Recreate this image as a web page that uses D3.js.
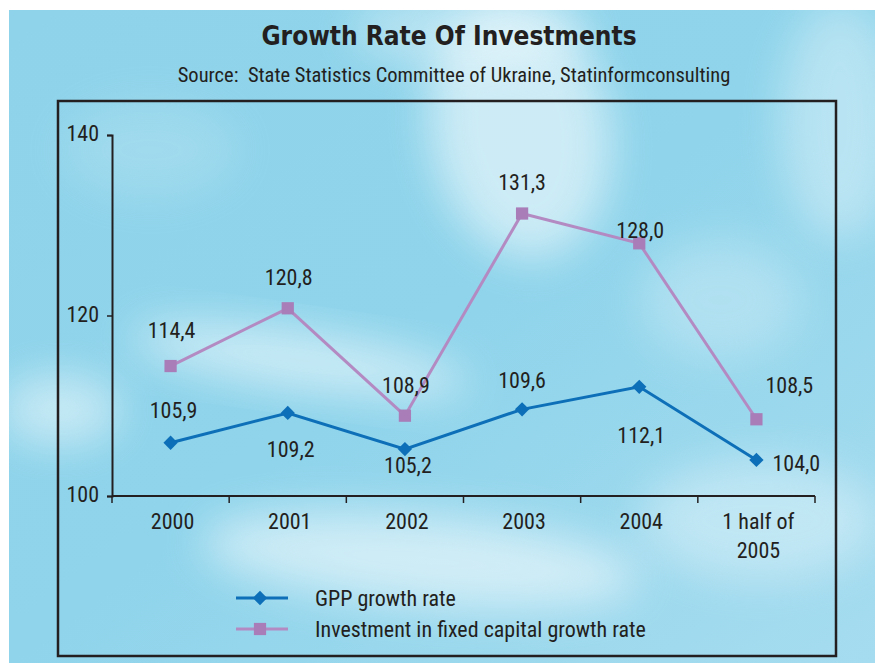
<!DOCTYPE html>
<html>
<head>
<meta charset="utf-8">
<script src="https://cdn.jsdelivr.net/npm/d3@7"></script>
<style>
  html, body { margin: 0; padding: 0; background: #ffffff; }
  svg { display: block; }
  .narrow { font-family: "Liberation Sans Narrow", "Roboto Condensed", "Liberation Sans", Arial, sans-serif; }
</style>
</head>
<body>
<svg id="chart" width="875" height="663"></svg>
<script>
// Data
const categories = ["2000", "2001", "2002", "2003", "2004", "1 half of\n2005"];
const gppValues = [105.9, 109.2, 105.2, 109.6, 112.1, 104.0];
const investValues = [114.4, 120.8, 108.9, 131.3, 128.0, 108.5];
const yTicks = [100, 120, 140];
const seriesNames = ["GPP growth rate", "Investment in fixed capital growth rate"];

// label placement per point: [dx, dy] of the label centre relative to the marker
const gppLabelOffsets = [[3, -33], [3, 36], [3, 16], [0, -29], [2, 48], [16, 3]];
const investLabelOffsets = [[1, -36], [1, -31], [1, -31], [0, -31], [1, -13], [9, -34]];

const W = 875, H = 663;
const svg = d3.select("#chart");
const defs = svg.append("defs");

// ---- sky background ----
const bgGrad = defs.append("linearGradient").attr("id", "sky")
  .attr("x1", 0).attr("y1", 0).attr("x2", 1).attr("y2", 1);
bgGrad.append("stop").attr("offset", 0).attr("stop-color", "#8ed3ea");
bgGrad.append("stop").attr("offset", 0.5).attr("stop-color", "#8fd4eb");
bgGrad.append("stop").attr("offset", 1).attr("stop-color", "#a6dcef");

defs.append("filter").attr("id", "soft").attr("x", "-50%").attr("y", "-50%")
  .attr("width", "200%").attr("height", "200%")
  .append("feGaussianBlur").attr("stdDeviation", 22);
defs.append("clipPath").attr("id", "skyClip")
  .append("rect").attr("x", 9).attr("y", 10).attr("width", W - 9).attr("height", H - 10);

const sky = svg.append("g").attr("clip-path", "url(#skyClip)");
sky.append("rect").attr("x", 9).attr("y", 10).attr("width", W - 9).attr("height", H - 10)
  .attr("fill", "url(#sky)");

// soft cloud patches
const clouds = [
  [520, 130, 90, 130, 0.55, -10],
  [470, 30, 120, 40, 0.35, 0],
  [300, 360, 170, 28, 0.55, 8],
  [60, 410, 60, 35, 0.5, 0],
  [420, 560, 220, 45, 0.55, 5],
  [760, 520, 120, 60, 0.35, 0],
  [840, 120, 60, 120, 0.35, 0],
  [720, 300, 80, 60, 0.25, 0],
  [150, 150, 90, 50, 0.15, 0]
];
sky.selectAll("ellipse.cloud").data(clouds).join("ellipse")
  .attr("class", "cloud")
  .attr("cx", d => d[0]).attr("cy", d => d[1])
  .attr("rx", d => d[2]).attr("ry", d => d[3])
  .attr("transform", d => `rotate(${d[5]},${d[0]},${d[1]})`)
  .attr("fill", "#ffffff").attr("opacity", d => d[4])
  .attr("filter", "url(#soft)");

// ---- titles ----
svg.append("text").attr("x", 449).attr("y", 45)
  .attr("text-anchor", "middle")
  .attr("font-family", "'DejaVu Sans Condensed', 'DejaVu Sans', sans-serif")
  .attr("font-weight", "bold").attr("font-size", 26).attr("fill", "#231f20")
  .text("Growth Rate Of Investments");
svg.append("text").attr("class", "narrow").attr("x", 454).attr("y", 82)
  .attr("text-anchor", "middle").attr("font-size", 20.5).attr("fill", "#231f20")
  .style("white-space", "pre")
  .text("Source:  State Statistics Committee of Ukraine, Statinformconsulting");

// ---- frame ----
svg.append("rect").attr("x", 58).attr("y", 101).attr("width", 778).attr("height", 555)
  .attr("fill", "none").attr("stroke", "#231f20").attr("stroke-width", 2.5);

// ---- scales ----
const x = d3.scaleBand().domain(categories).range([112, 815]);
const y = d3.scaleLinear().domain([100, 140]).range([496, 135]);
const cx = c => x(c) + x.bandwidth() / 2;

const axisColor = "#231f20";
const fs = 22;

// y axis
const yAxis = svg.append("g").attr("transform", "translate(112,0)")
  .call(d3.axisLeft(y).tickValues(yTicks).tickSize(5).tickPadding(8).tickFormat(d3.format("d")));
yAxis.select(".domain").attr("stroke", axisColor).attr("stroke-width", 2);
yAxis.selectAll(".tick line").attr("stroke", axisColor).attr("stroke-width", 1.5);
yAxis.selectAll(".tick text").attr("class", "narrow").attr("font-size", fs)
  .attr("fill", "#231f20").attr("dy", "0.25em");

// x axis: ticks at band boundaries
const xAxisG = svg.append("g").attr("transform", "translate(0,496)");
xAxisG.append("line").attr("x1", 112).attr("x2", 815).attr("y1", 0).attr("y2", 0)
  .attr("stroke", axisColor).attr("stroke-width", 2);
const boundaries = categories.map(c => x(c)).concat([x(categories[categories.length - 1]) + x.bandwidth()]);
xAxisG.selectAll("line.tk").data(boundaries).join("line").attr("class", "tk")
  .attr("x1", d => d).attr("x2", d => d).attr("y1", 0).attr("y2", 7)
  .attr("stroke", axisColor).attr("stroke-width", 1.5);
const xl = xAxisG.selectAll("text.xl").data(categories).join("text")
  .attr("class", "narrow xl").attr("text-anchor", "middle")
  .attr("font-size", fs).attr("fill", "#231f20");
xl.each(function (c) {
  const lines = c.split("\n");
  d3.select(this).selectAll("tspan").data(lines).join("tspan")
    .attr("x", cx(c) + 2).attr("y", (d, i) => 33 + i * 29).text(d => d);
});

// ---- series ----
const gppColor = "#0d6fb8";
const invColor = "#b48ac2";
const invMarker = "#a87db8";
const fmt = v => v.toFixed(1).replace(".", ",");

const line = d3.line().x((d, i) => cx(categories[i])).y(d => y(d));

svg.append("path").datum(investValues).attr("d", line)
  .attr("fill", "none").attr("stroke", invColor).attr("stroke-width", 3);
svg.append("path").datum(gppValues).attr("d", line)
  .attr("fill", "none").attr("stroke", gppColor).attr("stroke-width", 3);

const squareSym = d3.symbol().type(d3.symbolSquare).size(150);
const diamondSym = d3.symbol().type(d3.symbolDiamond2).size(130);

svg.selectAll("path.inv").data(investValues).join("path").attr("class", "inv")
  .attr("d", squareSym)
  .attr("transform", (d, i) => `translate(${cx(categories[i])},${y(d)})`)
  .attr("fill", invMarker);
svg.selectAll("path.gpp").data(gppValues).join("path").attr("class", "gpp")
  .attr("d", diamondSym)
  .attr("transform", (d, i) => `translate(${cx(categories[i])},${y(d)})`)
  .attr("fill", gppColor);

// value labels
function drawLabels(cls, values, offsets) {
  svg.selectAll("text." + cls).data(values).join("text").attr("class", "narrow " + cls)
    .attr("x", (d, i) => cx(categories[i]) + offsets[i][0])
    .attr("y", (d, i) => y(d) + offsets[i][1])
    .attr("dy", "0.36em")
    .attr("text-anchor", (d, i) => offsets[i][0] > 5 ? "start" : "middle")
    .attr("font-size", fs).attr("fill", "#231f20").text(fmt);
}
drawLabels("invl", investValues, investLabelOffsets);
drawLabels("gppl", gppValues, gppLabelOffsets);

// ---- legend ----
const legend = svg.append("g");
const legendItems = [
  { name: seriesNames[0], color: gppColor, marker: gppColor, sym: diamondSym, y: 598 },
  { name: seriesNames[1], color: invColor, marker: invMarker, sym: squareSym, y: 629 }
];
legendItems.forEach(it => {
  legend.append("line").attr("x1", 236).attr("x2", 288).attr("y1", it.y).attr("y2", it.y)
    .attr("stroke", it.color).attr("stroke-width", 3);
  legend.append("path").attr("d", it.sym).attr("transform", `translate(260,${it.y})`)
    .attr("fill", it.marker);
  legend.append("text").attr("class", "narrow").attr("x", 315).attr("y", it.y)
    .attr("dy", "0.36em")
    .attr("font-size", fs).attr("fill", "#231f20").text(it.name);
});
</script>
</body>
</html>
